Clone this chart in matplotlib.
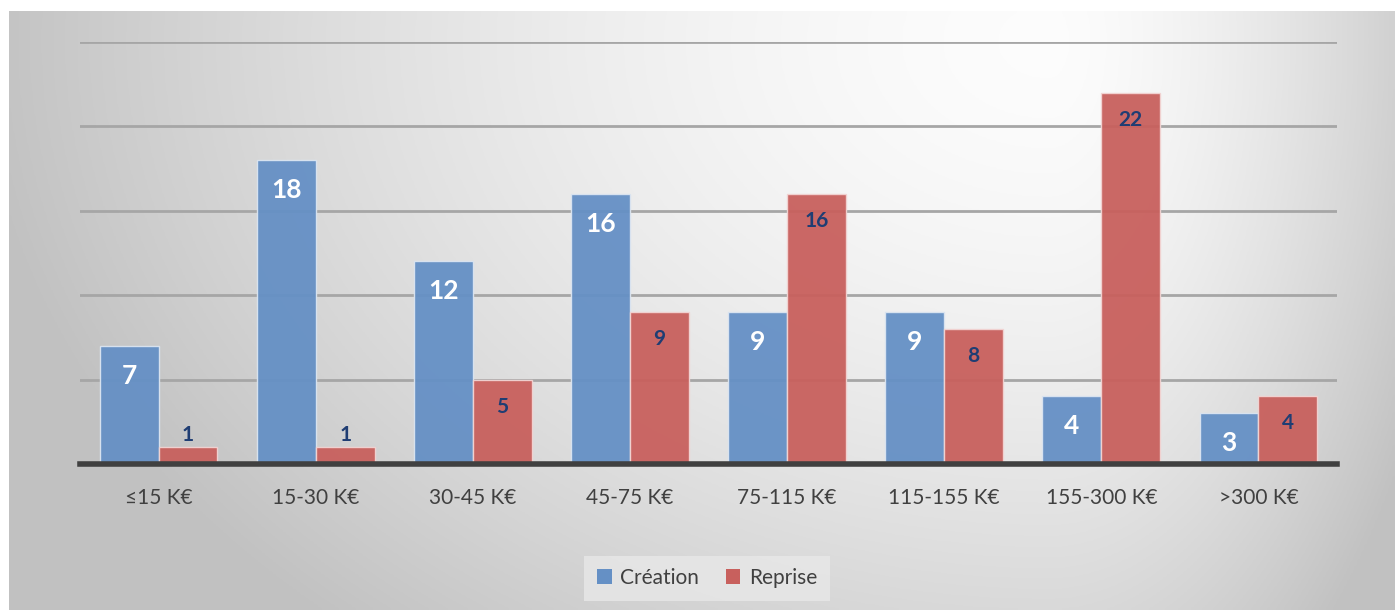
import numpy as np
import matplotlib.pyplot as plt
from matplotlib.patches import Patch

# Data
categories = ['≤15 K€', '15-30 K€', '30-45 K€', '45-75 K€', '75-115 K€',
              '115-155 K€', '155-300 K€', '>300 K€']
creation = [7, 18, 12, 16, 9, 9, 4, 3]
reprise = [1, 1, 5, 9, 16, 8, 22, 4]

blue = '#6590c5'
red = '#c8605d'

plt.rcParams['font.family'] = ['Lato', 'DejaVu Sans']

W, H = 1395, 610
fig = plt.figure(figsize=(W / 100, H / 100), dpi=100)
fig.patch.set_facecolor('white')

# gradient background panel
bg = fig.add_axes([9 / W, 0, 1 - 9 / W, (H - 11) / H], zorder=0)
xx, yy = np.meshgrid(np.linspace(9, W, 400), np.linspace(11, H, 200))
cx, cy = 1050, 40
nx = np.where(xx < cx, (xx - cx) / (cx - 9), (xx - cx) / (W - cx) * 0.85)
ny = (yy - cy) / (H - cy) * 0.75
r = np.sqrt(nx ** 2 + ny ** 2)
v = np.clip(0.99 - 0.22 * r ** 1.6, 0.76, 1)
bg.imshow(np.dstack([v, v, v]), aspect='auto', extent=[0, 1, 0, 1], origin='upper')
bg.axis('off')

ax = fig.add_axes([80 / W, (H - 464) / H, 1257 / W, (464 - 42) / H], zorder=1)
ax.patch.set_alpha(0)

x = np.arange(len(categories))
w = 0.375
b1 = ax.bar(x - w / 2, creation, w, color=blue, edgecolor='#dbe5f1', linewidth=1, alpha=0.95, zorder=3)
b2 = ax.bar(x + w / 2, reprise, w, color=red, edgecolor='#f2d4d3', linewidth=1, alpha=0.95, zorder=3)

for rect, val in zip(b1, creation):
    ax.annotate(str(val), (rect.get_x() + rect.get_width() / 2, val),
                xytext=(0, -30), textcoords='offset pixels', ha='center', va='center',
                color='white', fontsize=19, fontweight='bold', zorder=4)
for rect, val in zip(b2, reprise):
    off = 12 if val < 2 else -27
    ax.annotate(str(val), (rect.get_x() + rect.get_width() / 2, val),
                xytext=(0, off), textcoords='offset pixels', ha='center', va='center',
                color='#1f3d73', fontsize=15, fontweight='bold', zorder=4)

ax.set_xlim(-0.5, len(categories) - 0.5)
ax.set_ylim(0, 25)
ax.set_yticks([5, 10, 15, 20, 25])
ax.yaxis.grid(True, color='#a6a6a6', linewidth=2, zorder=1)
ax.set_axisbelow(True)
ax.tick_params(axis='y', left=False, labelleft=False)
ax.tick_params(axis='x', bottom=False, pad=14)
ax.set_xticks(x)
ax.set_xticklabels(categories, fontsize=15, color='#404040')
for s in ['top', 'right', 'left']:
    ax.spines[s].set_visible(False)
ax.spines['bottom'].set_color('#404040')
ax.spines['bottom'].set_linewidth(4)
ax.spines['bottom'].set_zorder(5)

handles = [Patch(facecolor=blue, label='Création'), Patch(facecolor=red, label='Reprise')]
leg = fig.legend(handles=handles, loc='center', bbox_to_anchor=(707 / W, 1 - 578 / H),
                 ncol=2, frameon=True, fontsize=15, handlelength=0.7, handleheight=0.7,
                 handletextpad=0.4, columnspacing=1.3, borderpad=0.6, fancybox=False)
leg.get_frame().set_facecolor('#e8e8e8')
leg.get_frame().set_edgecolor('none')
for t in leg.get_texts():
    t.set_color('#404040')

fig.savefig('out.png', dpi=100)
